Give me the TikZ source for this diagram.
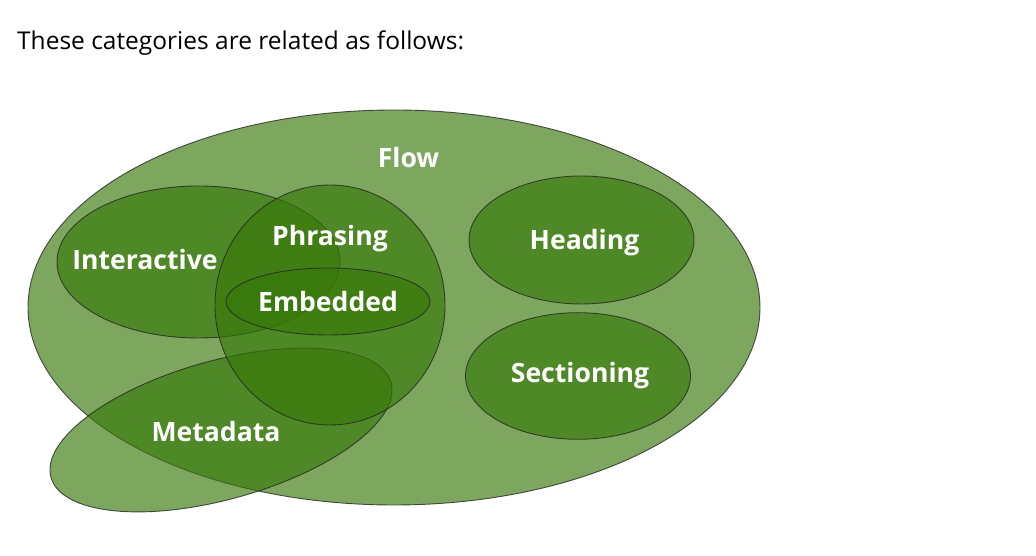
\documentclass[tikz,border=0pt]{standalone}
\usepackage{fontspec}
\setmainfont{Open Sans}
\usepackage{xcolor}
\definecolor{catgreen}{RGB}{55,120,8}

\begin{document}
\begin{tikzpicture}[
      x=1pt, y=1pt,
      cat/.style={fill=catgreen, fill opacity=0.65, draw=black!85, draw opacity=0.8, line width=0.9pt},
      lbl/.style={text=white, font=\fontsize{26.6}{30}\selectfont\bfseries, anchor=base, inner sep=0pt}
    ]
    \useasboundingbox (0,0) rectangle (1036,556);
    \node[anchor=base west, inner sep=0pt, font=\fontsize{24.5}{28}\selectfont] (intro) at (17,506.5) {These categories are related as follows:};
    % the categories, outer first
    \draw[cat] (394,248.5) ellipse [x radius=366, y radius=197.5];
    \draw[cat] (198.5,294) ellipse [x radius=141.5, y radius=76];
    \draw[cat, rotate around={15.6:(221,126)}] (221,126) ellipse [x radius=176.5, y radius=69.3];
    \draw[cat] (330,251) ellipse [x radius=115, y radius=120];
    \draw[cat] (328,254.5) ellipse [x radius=102, y radius=33.5];
    \draw[cat] (581.5,316) ellipse [x radius=112.5, y radius=64];
    \draw[cat] (578,180) ellipse [x radius=112.5, y radius=63.3];
    % names
    \node[lbl] (flow) at (408.5,388.3) {Flow};
    \node[lbl] (interactive) at (145,286) {Interactive};
    \node[lbl] (phrasing) at (330,310.3) {Phrasing};
    \node[lbl] (embedded) at (328,244.3) {Embedded};
    \node[lbl] (heading) at (584.5,306.7) {Heading};
    \node[lbl] (sectioning) at (580,173.3) {Sectioning};
    \node[lbl] (metadata) at (216,114.3) {Metadata};
  \end{tikzpicture}
\end{document}
